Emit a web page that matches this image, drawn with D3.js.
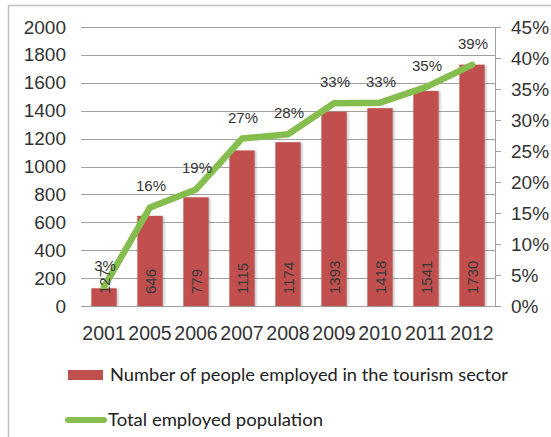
<!DOCTYPE html>
<html>
<head>
<meta charset="utf-8">
<script src="https://cdn.jsdelivr.net/npm/d3@7"></script>
<style>
  html, body { margin: 0; padding: 0; background: #fff; }
  svg { display: block; }
  .ar { font-family: "Liberation Sans", Arial, Helvetica, sans-serif; }
  .lg { font-family: Lato, "Open Sans", sans-serif; }
</style>
</head>
<body>
<svg id="chart" width="551" height="437"></svg>
<script>
const years = ["2001", "2005", "2006", "2007", "2008", "2009", "2010", "2011", "2012"];
const tourismEmployed = [127, 646, 779, 1115, 1174, 1393, 1418, 1541, 1730];
const totalEmployedPct = [3.1, 15.9, 18.8, 27.0, 27.7, 32.7, 32.8, 35.3, 38.9];
const pctLabels = ["3%", "16%", "19%", "27%", "28%", "33%", "33%", "35%", "39%"];
const leftTicks = [0, 200, 400, 600, 800, 1000, 1200, 1400, 1600, 1800, 2000];
const rightTicks = [0, 5, 10, 15, 20, 25, 30, 35, 40, 45];
const seriesNames = ["Number of people employed in the tourism sector", "Total employed population"];

const svg = d3.select("#chart");
const barColor = "#C0504D";
const lineColor = "#86BD4F";
const textColor = "#333333";
const gridColor = "#A0A0A0";

const defs = svg.append("defs");
const f = defs.append("filter").attr("id", "shadow").attr("x", "-30%").attr("y", "-10%").attr("width", "160%").attr("height", "120%");
f.append("feDropShadow").attr("dx", 1.5).attr("dy", 0.5).attr("stdDeviation", 1.2).attr("flood-color", "#888").attr("flood-opacity", 0.55);

// outer frame
svg.append("rect").attr("x", 8.5).attr("y", 5.5).attr("width", 600).attr("height", 500)
  .attr("fill", "none").attr("stroke", "#BFBFBF").attr("stroke-width", 1.5);

const x = d3.scaleBand().domain(years).range([81, 495]).paddingInner(0.45).paddingOuter(0.225);
const y = d3.scaleLinear().domain([0, 2000]).range([306, 27]);
const y2 = d3.scaleLinear().domain([0, 45]).range([306, 27]);

// gridlines
svg.append("g").selectAll("line").data(leftTicks).join("line")
  .attr("x1", 81).attr("x2", 495)
  .attr("y1", d => Math.round(y(d)) + 0.5).attr("y2", d => Math.round(y(d)) + 0.5)
  .attr("stroke", gridColor).attr("stroke-width", 1);

// left axis
const gL = svg.append("g").attr("transform", "translate(76,0)")
  .call(d3.axisLeft(y).tickValues(leftTicks).tickSize(0).tickPadding(10).tickFormat(d3.format("d")));
gL.attr("font-family", null).attr("font-size", null);
gL.select(".domain").remove();
gL.selectAll("text").attr("class", "ar").attr("font-size", 19).attr("fill", textColor);

// right axis
const gR = svg.append("g").attr("transform", "translate(495,0)")
  .call(d3.axisRight(y2).tickValues(rightTicks).tickSize(6).tickPadding(10).tickFormat(d => d + "%"));
gR.attr("font-family", null).attr("font-size", null);
gR.select(".domain").attr("stroke", gridColor).attr("d", `M0.5,${y2(45)}V${y2(0)}`);
gR.selectAll(".tick line").attr("stroke", gridColor);
gR.selectAll("text").attr("class", "ar").attr("font-size", 19).attr("fill", textColor);

// x labels
svg.append("g").selectAll("text").data(years).join("text")
  .attr("class", "ar")
  .attr("x", d => x(d) + x.bandwidth() / 2).attr("y", 340)
  .attr("text-anchor", "middle")
  .attr("font-size", 19.5)
  .attr("fill", textColor).text(d => d);

// bars
svg.append("g").selectAll("rect").data(tourismEmployed).join("rect")
  .attr("x", (d, i) => x(years[i])).attr("width", x.bandwidth())
  .attr("y", d => y(d)).attr("height", d => y(0) - y(d))
  .attr("fill", barColor).attr("filter", "url(#shadow)");

// line
const line = d3.line().x((d, i) => x(years[i]) + x.bandwidth() / 2).y(d => y2(d));
svg.append("path").datum(totalEmployedPct).attr("d", line)
  .attr("fill", "none").attr("stroke", lineColor).attr("stroke-width", 6.5)
  .attr("stroke-linecap", "round").attr("stroke-linejoin", "round");

// bar value labels (rotated)
svg.append("g").selectAll("text").data(tourismEmployed).join("text")
  .attr("class", "ar")
  .attr("transform", (d, i) => `translate(${x(years[i]) + x.bandwidth() / 2 + 5.5},294) rotate(-90)`)
  .attr("text-anchor", "start")
  .attr("font-size", 15)
  .attr("fill", "#3a3a3a").text(d => d);

// pct labels
svg.append("g").selectAll("text").data(totalEmployedPct).join("text")
  .attr("class", "ar")
  .attr("x", (d, i) => x(years[i]) + x.bandwidth() / 2 + 1)
  .attr("y", d => y2(d) - 16)
  .attr("text-anchor", "middle")
  .attr("font-size", 15)
  .attr("fill", textColor).text((d, i) => pctLabels[i]);

// legend
const lg = svg.append("g");
lg.append("rect").attr("x", 68).attr("y", 370).attr("width", 35).attr("height", 10).attr("fill", barColor);
lg.append("text").attr("class", "lg").attr("x", 110).attr("y", 381)
  .attr("font-size", 18)
  .attr("textLength", 398).attr("lengthAdjust", "spacingAndGlyphs")
  .attr("fill", "#222").text(seriesNames[0]);
lg.append("line").attr("x1", 68).attr("x2", 104).attr("y1", 420).attr("y2", 420)
  .attr("stroke", lineColor).attr("stroke-width", 6).attr("stroke-linecap", "round");
lg.append("text").attr("class", "lg").attr("x", 108).attr("y", 426)
  .attr("font-size", 18)
  .attr("textLength", 215).attr("lengthAdjust", "spacingAndGlyphs")
  .attr("fill", "#222").text(seriesNames[1]);
</script>
</body>
</html>
